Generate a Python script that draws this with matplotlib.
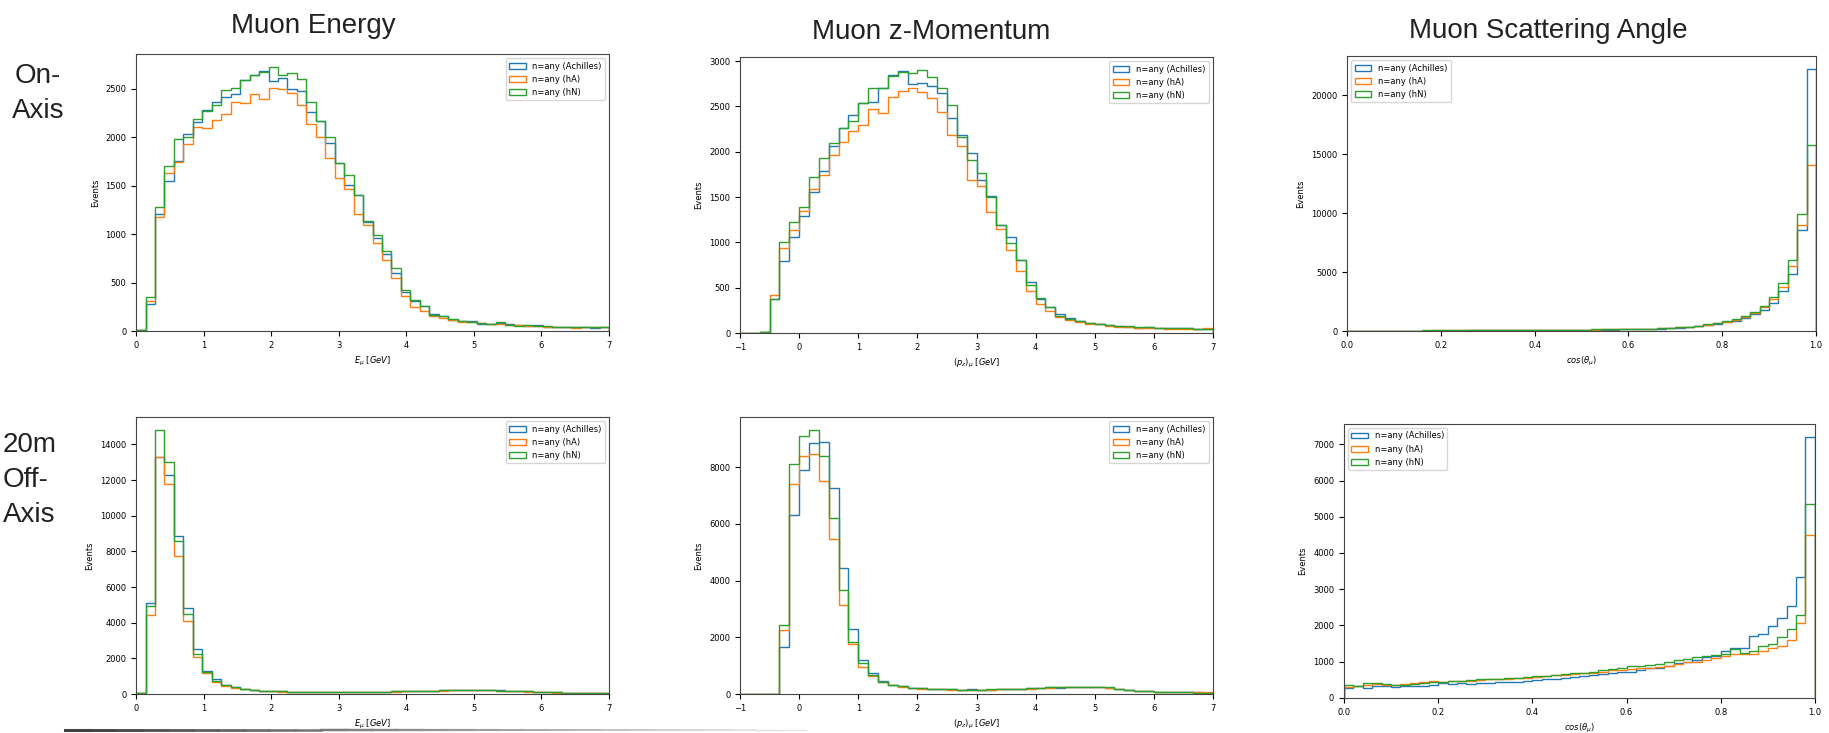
import numpy as np
import matplotlib.pyplot as plt

# labels of the three generator configs
labels = ['n=any (Achilles)', 'n=any (hA)', 'n=any (hN)']
col_titles = ['Muon Energy', 'Muon z-Momentum', 'Muon Scattering Angle']
row_on = ['On-', 'Axis']
row_off = ['20m', 'Off-', 'Axis']

# bin edges
e_bins = np.linspace(0, 7, 51)
pz_bins = np.linspace(-1, 7, 49)
cos_bins = np.linspace(0, 1, 51)

# ---- on-axis ----
on_E_ach = [10, 280, 1210, 1550, 1750, 2030, 2150, 2280, 2360, 2410, 2440, 2590, 2640, 2680, 2580, 2610, 2500, 2470,
            2260, 2170, 1940, 1730, 1510, 1400, 1120, 960, 790, 600, 400, 310, 260, 180, 160, 110, 100, 100, 75, 75,
            80, 70, 60, 55, 60, 45, 45, 45, 40, 40, 35, 40]
on_E_hA = [10, 310, 1180, 1630, 1740, 1930, 2100, 2090, 2180, 2240, 2360, 2350, 2440, 2390, 2510, 2500, 2450, 2330,
           2130, 2000, 1780, 1580, 1460, 1210, 1090, 910, 730, 550, 360, 250, 210, 160, 130, 110, 90, 90, 80, 70,
           70, 60, 60, 55, 50, 45, 40, 40, 35, 45, 40, 45]
on_E_hN = [10, 350, 1280, 1700, 1980, 2000, 2190, 2270, 2330, 2490, 2510, 2590, 2640, 2670, 2720, 2640, 2660, 2600,
           2360, 2170, 2000, 1730, 1610, 1400, 1130, 990, 820, 650, 420, 320, 260, 170, 150, 120, 100, 95, 80, 75,
           90, 65, 55, 60, 50, 50, 45, 40, 45, 40, 40, 40]

on_pz_ach = [0, 0, 10, 380, 790, 1060, 1290, 1560, 1790, 2060, 2260, 2410, 2540, 2550, 2700, 2850, 2890, 2750, 2760,
             2720, 2650, 2370, 2190, 1990, 1690, 1510, 1190, 1060, 800, 560, 380, 290, 210, 170, 130, 110, 100, 90,
             80, 70, 60, 70, 60, 60, 55, 50, 45, 45]
on_pz_hA = [0, 0, 10, 420, 940, 1140, 1350, 1590, 1740, 1960, 2110, 2230, 2300, 2470, 2430, 2600, 2670, 2700, 2660,
            2590, 2440, 2180, 2060, 1690, 1620, 1340, 1150, 920, 680, 460, 320, 240, 180, 140, 120, 100, 95, 80,
            70, 65, 60, 60, 50, 40, 45, 45, 40, 55]
on_pz_hN = [0, 0, 10, 380, 1000, 1230, 1390, 1720, 1930, 2100, 2260, 2340, 2540, 2700, 2700, 2840, 2880, 2870, 2900,
            2830, 2700, 2520, 2160, 1910, 1760, 1500, 1190, 990, 800, 530, 390, 290, 190, 150, 130, 110, 100, 85,
            80, 75, 65, 70, 60, 60, 55, 50, 45, 45]

on_cos_ach = [20, 20, 15, 25, 25, 25, 30, 30, 30, 35, 35, 40, 40, 45, 45, 50, 50, 55, 60, 60, 65, 70, 75, 80, 90,
              95, 100, 110, 120, 130, 140, 150, 170, 200, 240, 290, 350, 430, 510, 620, 760, 880, 1130, 1480, 1790,
              2400, 3350, 4850, 8600, 22200]
on_cos_hA = [25, 25, 30, 30, 30, 35, 35, 40, 40, 45, 45, 50, 50, 55, 60, 60, 65, 70, 75, 80, 85, 90, 95, 100, 105,
             110, 120, 130, 140, 150, 160, 170, 190, 220, 260, 310, 370, 450, 540, 650, 800, 960, 1200, 1560, 2000,
             2700, 3700, 5550, 9000, 14100]
on_cos_hN = [25, 25, 30, 30, 35, 35, 40, 40, 45, 45, 50, 50, 55, 60, 60, 65, 70, 75, 80, 85, 90, 95, 100, 110, 115,
             120, 130, 140, 150, 160, 170, 180, 200, 230, 270, 320, 380, 460, 560, 680, 850, 1000, 1250, 1600, 2120,
             2850, 4030, 6050, 9900, 15800]

# ---- 20m off-axis ----
off_E_ach = [70, 5100, 13300, 12300, 8850, 4850, 2500, 1300, 850, 500, 380, 280, 220, 180, 160, 150, 140, 130, 120,
             120, 130, 120, 130, 120, 140, 130, 140, 150, 160, 170, 180, 190, 200, 210, 220, 230, 220, 210, 200, 180,
             160, 150, 130, 110, 90, 70, 60, 50, 40, 40]
off_E_hA = [60, 4450, 13300, 11800, 7750, 4100, 2100, 1200, 700, 450, 350, 260, 200, 170, 150, 140, 130, 120, 120,
            110, 120, 110, 120, 120, 130, 130, 140, 140, 150, 160, 170, 180, 190, 200, 210, 220, 210, 200, 190, 170,
            150, 140, 120, 100, 80, 70, 55, 45, 40, 35]
off_E_hN = [70, 4950, 14800, 13000, 8600, 4500, 2250, 1250, 750, 480, 370, 270, 210, 180, 160, 150, 140, 130, 120,
            130, 120, 130, 120, 130, 130, 140, 140, 150, 160, 170, 180, 190, 200, 210, 220, 230, 220, 210, 190, 180,
            160, 150, 130, 110, 90, 70, 60, 50, 40, 40]

off_pz_ach = [0, 0, 0, 0, 1650, 6300, 7900, 8850, 8900, 7250, 4450, 2300, 1200, 750, 450, 320, 270, 220, 200, 180,
              170, 160, 150, 160, 140, 150, 170, 180, 190, 200, 210, 230, 220, 240, 250, 240, 230, 200, 170, 140,
              110, 90, 70, 70, 60, 60, 55, 50]
off_pz_hA = [0, 0, 0, 0, 2250, 7400, 8400, 8450, 7500, 5450, 3150, 1750, 950, 620, 420, 300, 260, 200, 190, 180,
             160, 150, 150, 150, 130, 150, 160, 170, 180, 190, 200, 220, 230, 240, 240, 230, 240, 220, 180, 150,
             120, 90, 80, 70, 70, 65, 60, 55]
off_pz_hN = [0, 0, 0, 0, 2450, 8100, 9100, 9300, 8400, 6200, 3650, 1850, 1100, 680, 430, 320, 270, 210, 200, 190,
             170, 160, 150, 150, 150, 160, 170, 190, 190, 200, 220, 240, 240, 250, 250, 250, 250, 230, 180, 150,
             110, 90, 75, 65, 60, 55, 50, 50]

off_cos_ach = [280, 320, 270, 340, 330, 310, 330, 340, 330, 360, 400, 380, 400, 380, 410, 420, 430, 440, 450, 470,
               490, 510, 530, 560, 590, 600, 640, 670, 700, 720, 730, 760, 820, 840, 890, 960, 1000, 1060, 1120,
               1150, 1290, 1370, 1390, 1700, 1760, 1980, 2200, 2530, 3350, 7200]
off_cos_hA = [300, 320, 370, 380, 350, 360, 380, 410, 430, 470, 450, 470, 460, 480, 500, 510, 520, 520, 540, 560,
              580, 600, 620, 640, 660, 680, 700, 730, 760, 770, 800, 820, 830, 850, 880, 950, 990, 1000, 1060, 1100,
              1170, 1210, 1210, 1220, 1300, 1380, 1430, 1600, 2070, 4500]
off_cos_hN = [360, 340, 420, 400, 380, 370, 370, 380, 410, 440, 440, 460, 480, 500, 520, 510, 520, 540, 560, 590,
              600, 610, 640, 670, 690, 700, 720, 760, 790, 840, 870, 890, 920, 940, 980, 1050, 1080, 1130, 1150,
              1190, 1200, 1350, 1250, 1300, 1420, 1500, 1680, 1900, 2280, 5350]

plt.rcParams['font.size'] = 6
plt.rcParams['axes.edgecolor'] = '#444444'

W, H = 1829, 733
fig = plt.figure(figsize=(W / 100, H / 100), dpi=100)

# axes rectangles in figure fraction (left, bottom, width, height)
rects = [[0.0744, 0.5484, 0.2586, 0.3779], [0.4046, 0.5457, 0.2586, 0.3765], [0.7365, 0.5484, 0.2564, 0.3752],
         [0.0744, 0.0532, 0.2586, 0.3779], [0.4046, 0.0532, 0.2586, 0.3779], [0.7348, 0.0478, 0.2575, 0.3738]]

panels = [
    (e_bins, [on_E_ach, on_E_hA, on_E_hN], r'$E_{\mu}$ [$GeV$]', (0, 7), 'upper right'),
    (pz_bins, [on_pz_ach, on_pz_hA, on_pz_hN], r'$(p_z)_{\mu}$ [$GeV$]', (-1, 7), 'upper right'),
    (cos_bins, [on_cos_ach, on_cos_hA, on_cos_hN], r'$cos(\theta_{\mu})$', (0, 1), 'upper left'),
    (e_bins, [off_E_ach, off_E_hA, off_E_hN], r'$E_{\mu}$ [$GeV$]', (0, 7), 'upper right'),
    (pz_bins, [off_pz_ach, off_pz_hA, off_pz_hN], r'$(p_z)_{\mu}$ [$GeV$]', (-1, 7), 'upper right'),
    (cos_bins, [off_cos_ach, off_cos_hA, off_cos_hN], r'$cos(\theta_{\mu})$', (0, 1), 'upper left'),
]

for rect, (bins, series, xlab, xl, loc) in zip(rects, panels):
    ax = fig.add_axes(rect)
    centers = 0.5 * (bins[:-1] + bins[1:])
    for counts, lab in zip(series, labels):
        ax.hist(centers, bins=bins, weights=counts, histtype='step', label=lab, linewidth=1.0)
    ax.set_xlim(*xl)
    ax.set_xlabel(xlab)
    ax.set_ylabel('Events')
    ax.legend(loc=loc, fontsize=6)

# column titles (slide text), positions in pixels of the slide
title_pos = [(313, 33), (931, 39), (1548, 38)]
for (x, y), t in zip(title_pos, col_titles):
    fig.text(x / W, 1 - y / H, t, ha='center', va='baseline', fontsize=20,
             family='Liberation Sans', color='#222222')

# row labels
for line, y in zip(row_on, [83, 118]):
    fig.text(38 / W, 1 - y / H, line, ha='center', va='baseline', fontsize=20,
             family='Liberation Sans', color='#222222')
for line, y in zip(row_off, [452, 487, 522]):
    fig.text(3 / W, 1 - y / H, line, ha='left', va='baseline', fontsize=20,
             family='Liberation Sans', color='#222222')

# fading rule at the bottom of the slide
xs = np.linspace(65, 806, 30) / W
for i in range(len(xs) - 1):
    g = 0.25 + 0.65 * i / (len(xs) - 2)
    fig.add_artist(plt.Line2D([xs[i], xs[i + 1]], [1 - 730 / H] * 2, transform=fig.transFigure,
                              color=(g, g, g), linewidth=2.2 - 1.2 * i / (len(xs) - 2)))

fig.savefig('out.png', dpi=100)
